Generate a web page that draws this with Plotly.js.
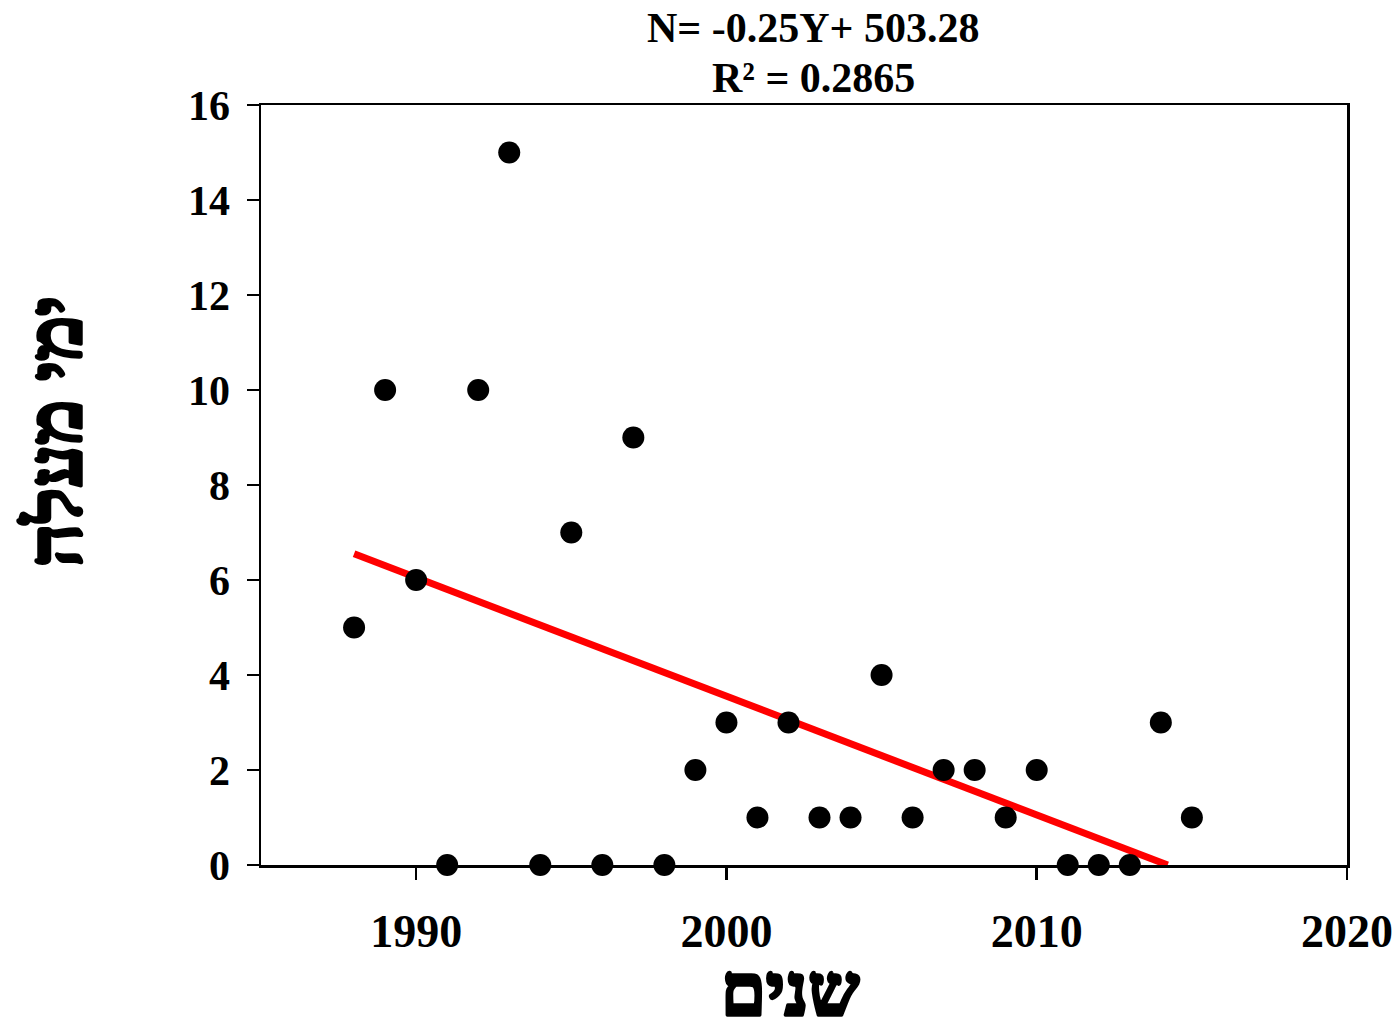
<!DOCTYPE html>
<html><head><meta charset="utf-8">
<script src="https://cdn.plot.ly/plotly-3.0.1.min.js"></script>
<style>body{margin:0;background:#fff}#chart{width:1400px;height:1032px}</style>
</head><body><div id="chart"></div>
<script>
const years = [1988,1989,1990,1991,1992,1993,1994,1995,1996,1997,1998,1999,2000,2001,2002,2003,2004,2005,2006,2007,2008,2009,2010,2011,2012,2013,2014,2015];
const days  = [5,10,6,0,10,15,0,7,0,9,0,2,3,1,3,1,1,4,1,2,2,1,2,0,0,0,3,1];
const titleLines = ["N= -0.25Y+ 503.28", "R² = 0.2865"];
const xTitle = "שנים";
const yTitle = "ימי מעלה";

// least-squares trend line, drawn from first year until it reaches 0
const n = years.length;
const mx = years.reduce((a,b)=>a+b,0)/n, my = days.reduce((a,b)=>a+b,0)/n;
let sxy=0, sxx=0;
for (let i=0;i<n;i++){ sxy+=(years[i]-mx)*(days[i]-my); sxx+=(years[i]-mx)**2; }
const slope = sxy/sxx, icpt = my - slope*mx;
const x0 = years[0], x1 = Math.min(years[n-1], -icpt/slope);
const trendX = [x0, x1], trendY = [slope*x0+icpt, slope*x1+icpt];

const font = "Liberation Serif, Times New Roman, serif";
const data = [
  {x: trendX, y: trendY, mode:'lines', line:{color:'#ff0000', width:7}, hoverinfo:'skip', cliponaxis:false},
  {x: years, y: days, mode:'markers', marker:{color:'#000', size:22}, cliponaxis:false}
];
const layout = {
  width:1400, height:1032, showlegend:false,
  paper_bgcolor:'#fff', plot_bgcolor:'#fff',
  margin:{l:261, r:53, t:105, b:167},
  font:{family:font, color:'#000'},
  xaxis:{range:[1985,2020], tickvals:[1990,2000,2010,2020], showgrid:false, zeroline:false,
         showline:true, mirror:true, linecolor:'#000', linewidth:2.5,
         ticks:'outside', ticklen:12, tickwidth:2.5, tickcolor:'#000', ticklabelstandoff:12,
         tickfont:{family:font, size:46, color:'#000', weight:'bold'}},
  yaxis:{range:[0,16], tickvals:[0,2,4,6,8,10,12,14,16], showgrid:false, zeroline:false,
         showline:true, mirror:true, linecolor:'#000', linewidth:2.5,
         ticks:'outside', ticklen:12, tickwidth:2.5, tickcolor:'#000', ticklabelstandoff:8,
         tickfont:{family:font, size:42, color:'#000', weight:'bold'}},
  annotations:[
    {text:titleLines[0], xref:'paper', yref:'paper', x:0.5083, y:1, yshift:77, xanchor:'center', yanchor:'middle', showarrow:false,
     font:{family:font, size:42, color:'#000', weight:'bold'}},
    {text:titleLines[1], xref:'paper', yref:'paper', x:0.5083, y:1, yshift:27, xanchor:'center', yanchor:'middle', showarrow:false,
     font:{family:font, size:42, color:'#000', weight:'bold'}},
    {text:xTitle, xref:'paper', yref:'paper', x:0.4871, y:0, yshift:-126, xanchor:'center', yanchor:'middle', showarrow:false,
     font:{family:font, size:72, color:'#000', weight:'bold'}},
    {text:yTitle, xref:'paper', yref:'paper', x:0, xshift:-206, y:0.5, yshift:53, textangle:-90, xanchor:'center', yanchor:'middle', showarrow:false,
     font:{family:font, size:76, color:'#000', weight:'bold'}}
  ]
};
function heavy(){
  document.querySelectorAll('#chart .annotation-text').forEach(t=>{
    if (/[\u0590-\u05FF]/.test(t.textContent)) {
      t.style.stroke = '#000'; t.style.strokeWidth = '3.5px'; t.style.strokeLinejoin = 'round';
    }
  });
}
Plotly.newPlot('chart', data, layout, {displayModeBar:false, staticPlot:true}).then(heavy);
document.getElementById('chart').on && document.getElementById('chart').on('plotly_afterplot', heavy);
</script></body></html>
